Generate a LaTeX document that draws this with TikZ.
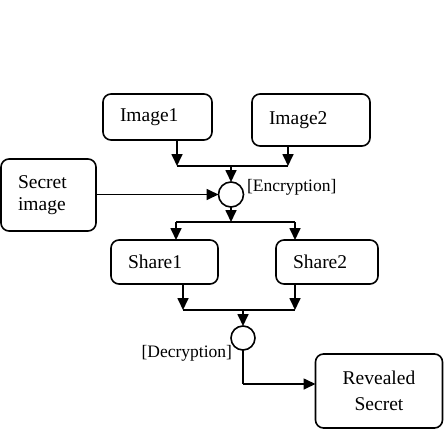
\documentclass[tikz,border=0pt]{standalone}
\usepackage{fontspec}
\setmainfont{Liberation Serif}
\usetikzlibrary{arrows.meta}
\begin{document}
\begin{tikzpicture}[x=1pt,y=1pt,
  every node/.style={inner sep=0pt, outer sep=0pt},
  box/.style={draw, rounded corners=8pt, line width=1.6pt, inner xsep=17pt,
    align=left, font=\fontsize{19.5}{22}\selectfont},
  junc/.style={draw, circle, line width=1.6pt},
  conn/.style={line width=1.7pt},
  arr/.style={line width=1.7pt, -{Triangle[length=12pt,width=11pt]}},
  lbl/.style={font=\fontsize{17.5}{20}\selectfont}]
\useasboundingbox (0,0) rectangle (447,-440);
% boxes
\node[box, text width=75pt, minimum height=46pt] (img1) at (157.5,-117) {Image1};
\node[box, text width=84pt, minimum height=52pt] (img2) at (311,-120) {Image2};
\node[box, text width=61pt, minimum height=72pt] (secret) at (48.5,-195) {Secret\\image};
\node[box, text width=73pt, minimum height=44pt] (sh1) at (164.5,-262) {Share1};
\node[box, text width=68pt, minimum height=44pt] (sh2) at (327,-262) {Share2};
\node[box, align=center, inner xsep=0pt, text width=127pt, minimum height=74pt,
  font=\fontsize{19.5}{26}\selectfont] (rev) at (379,-391) {Revealed\\Secret};
% junction circles
\node[junc, minimum size=25pt] (enc) at (231,-194.5) {};
\node[junc, minimum size=24pt] (dec) at (243,-338) {};
% labels
\node[lbl, anchor=west] (enclbl) at (247,-187) {[Encryption]};
\node[lbl, anchor=east] (declbl) at (232,-353) {[Decryption]};
% coordinates
\coordinate (ja) at (177,-166);
\coordinate (jb) at (288,-166);
\coordinate (jc) at (231,-166);
\coordinate (jd) at (231,-222);
\coordinate (je) at (176,-222);
\coordinate (jf) at (295,-222);
\coordinate (jg) at (183,-310);
\coordinate (jh) at (295,-310);
\coordinate (ji) at (243,-310);
\coordinate (jj) at (243,-384);
% connectors
\draw[arr] (ja |- img1.south) -- (ja);
\draw[arr] (jb |- img2.south) -- (jb);
\draw[conn] (ja) -- (jb);
\draw[arr] (jc) -- (enc.north);
\draw[arr] (secret.east |- enc.west) -- (enc.west);
\draw[arr] (enc.south) -- (jd);
\draw[conn] (je) -- (jf);
\draw[arr] (je) -- (je |- sh1.north);
\draw[arr] (jf) -- (jf |- sh2.north);
\draw[arr] (jg |- sh1.south) -- (jg);
\draw[arr] (jh |- sh2.south) -- (jh);
\draw[conn] (jg) -- (jh);
\draw[arr] (ji) -- (dec.north);
\draw[conn] (dec.south) -- (jj);
\draw[arr] (jj) -- (rev.west |- jj);
\end{tikzpicture}
\end{document}
